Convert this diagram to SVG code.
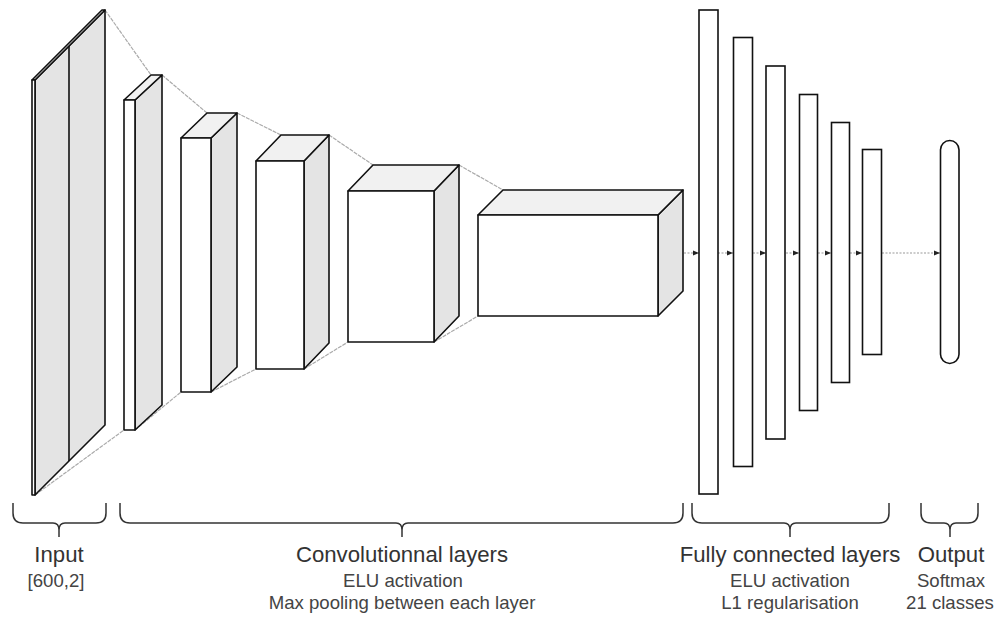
<svg xmlns="http://www.w3.org/2000/svg" width="996" height="618" viewBox="0 0 996 618">
<defs>
<style>
.edge{stroke:#111;stroke-width:1.6;stroke-linejoin:round}
.front{fill:#ffffff}
.top{fill:#f1f1f1}
.side{fill:#e4e4e4}
.funnel{stroke:#aaaaaa;stroke-width:1.2;stroke-dasharray:4 1;fill:none}
.arrow{stroke:#999999;stroke-width:1.2;stroke-dasharray:2 1.5;fill:none}
.dense{fill:#ffffff;stroke:#111;stroke-width:1.6}
.brace{fill:none;stroke:#333;stroke-width:1.5}
.title{font-family:"Liberation Sans",Arial,sans-serif;font-size:22.2px;fill:#333;text-anchor:middle}
.sub{font-family:"Liberation Sans",Arial,sans-serif;font-size:18.6px;fill:#444;text-anchor:middle}
</style>
<marker id="ah" viewBox="0 0 6 6" refX="6" refY="3" markerWidth="6" markerHeight="6" markerUnits="userSpaceOnUse" orient="auto">
<path d="M0,0.5 L6,3 L0,5.5 Z" fill="#222"/>
</marker>
</defs>

<g id="connectors">
<line class="funnel" x1="105" y1="10" x2="151" y2="75"/>
<line class="funnel" x1="162" y1="75" x2="207" y2="113"/>
<line class="funnel" x1="237" y1="113" x2="281" y2="135"/>
<line class="funnel" x1="329" y1="135" x2="373" y2="165"/>
<line class="funnel" x1="459" y1="165" x2="503" y2="190"/>
<line class="funnel" x1="35" y1="495" x2="124" y2="430"/>
<line class="funnel" x1="135" y1="430" x2="181" y2="392"/>
<line class="funnel" x1="211" y1="392" x2="256" y2="369"/>
<line class="funnel" x1="304" y1="369" x2="348" y2="342"/>
<line class="funnel" x1="434" y1="342" x2="478" y2="316"/>
<line class="arrow" x1="684" y1="253" x2="699" y2="253" marker-end="url(#ah)"/>
<line class="arrow" x1="718" y1="253" x2="733" y2="253" marker-end="url(#ah)"/>
<line class="arrow" x1="753" y1="253" x2="766" y2="253" marker-end="url(#ah)"/>
<line class="arrow" x1="786" y1="253" x2="799" y2="253" marker-end="url(#ah)"/>
<line class="arrow" x1="818" y1="253" x2="831" y2="253" marker-end="url(#ah)"/>
<line class="arrow" x1="850" y1="253" x2="862" y2="253" marker-end="url(#ah)"/>
<line class="arrow" x1="882" y1="253" x2="940" y2="253" marker-end="url(#ah)"/>
</g>

<g id="input">
<polygon class="side edge" points="35,80 105,10 105,425 35,495"/>
<polygon class="top edge" points="32,80 35,80 105,10 102,10"/>
<rect class="front edge" x="32" y="80" width="3" height="415"/>
<line class="edge" x1="69" y1="46" x2="69" y2="461"/>
</g>

<g id="conv1">
<polygon class="side edge" points="135,100 162,75 162,405 135,430"/>
<polygon class="top edge" points="124,100 151,75 162,75 135,100"/>
<rect class="front edge" x="124" y="100" width="11" height="330"/>
</g>

<g id="conv2">
<polygon class="side edge" points="211,138 237,113 237,367 211,392"/>
<polygon class="top edge" points="181,138 207,113 237,113 211,138"/>
<rect class="front edge" x="181" y="138" width="30" height="254"/>
</g>

<g id="conv3">
<polygon class="side edge" points="304,161 329,135 329,343 304,369"/>
<polygon class="top edge" points="256,161 281,135 329,135 304,161"/>
<rect class="front edge" x="256" y="161" width="48" height="208"/>
</g>

<g id="conv4">
<polygon class="side edge" points="434,191 459,165 459,316 434,342"/>
<polygon class="top edge" points="348,191 373,165 459,165 434,191"/>
<rect class="front edge" x="348" y="191" width="86" height="151"/>
</g>

<g id="conv5">
<polygon class="side edge" points="658,215 683,190 683,291 658,316"/>
<polygon class="top edge" points="478,215 503,190 683,190 658,215"/>
<rect class="front edge" x="478" y="215" width="180" height="101"/>
</g>

<g id="dense1"><rect class="dense" x="699" y="10" width="19" height="484"/></g>
<g id="dense2"><rect class="dense" x="733.5" y="37.5" width="19" height="429"/></g>
<g id="dense3"><rect class="dense" x="766" y="66" width="19" height="373"/></g>
<g id="dense4"><rect class="dense" x="799.5" y="94.5" width="18" height="316"/></g>
<g id="dense5"><rect class="dense" x="831.5" y="122.5" width="18" height="260"/></g>
<g id="dense6"><rect class="dense" x="862.5" y="149.5" width="19" height="205"/></g>
<g id="output"><rect class="dense" x="940.5" y="140.5" width="18.5" height="223" rx="9.25"/></g>

<g id="brace-input">
<path class="brace" d="M13,503 V513 Q13,523 23,523 H53 Q59,523 59,530 V537 M59,530 Q59,523 65,523 H96 Q106,523 106,513 V503"/>
<text class="title" x="59" y="562">Input</text>
<text class="sub" x="56" y="587">[600,2]</text>
</g>

<g id="brace-conv">
<path class="brace" d="M120,503 V513 Q120,523 130,523 H396 Q402,523 402,530 V537 M402,530 Q402,523 408,523 H673 Q683,523 683,513 V503"/>
<text class="title" x="402" y="562">Convolutionnal layers</text>
<text class="sub" x="403" y="587">ELU activation</text>
<text class="sub" x="402" y="609">Max pooling between each layer</text>
</g>

<g id="brace-dense">
<path class="brace" d="M692,503 V513 Q692,523 702,523 H784 Q790,523 790,530 V537 M790,530 Q790,523 796,523 H879 Q889,523 889,513 V503"/>
<text class="title" x="790" y="562">Fully connected layers</text>
<text class="sub" x="790" y="587">ELU activation</text>
<text class="sub" x="790" y="609">L1 regularisation</text>
</g>

<g id="brace-output">
<path class="brace" d="M921,503 V513 Q921,523 931,523 H944 Q950,523 950,530 V537 M950,530 Q950,523 956,523 H968 Q978,523 978,513 V503"/>
<text class="title" x="951" y="562">Output</text>
<text class="sub" x="951" y="587">Softmax</text>
<text class="sub" x="950" y="609">21 classes</text>
</g>
</svg>
